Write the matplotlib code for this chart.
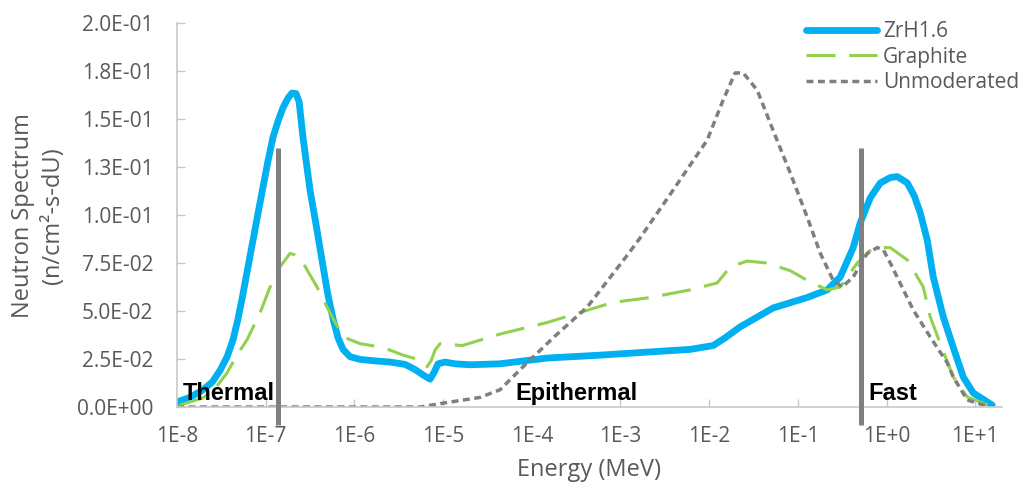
import matplotlib
matplotlib.use("Agg")
import matplotlib.pyplot as plt

# energies in MeV, spectra in n/cm2-s-dU
e_zrh = [1.0e-8, 1.4e-8, 1.96e-8, 2.5e-8, 3.05e-8, 3.66e-8, 4.28e-8, 4.88e-8, 5.55e-8,
         6.32e-8, 7.2e-8, 8.2e-8, 9.33e-8, 1.06e-7, 1.21e-7, 1.38e-7, 1.57e-7, 1.79e-7,
         1.98e-7, 2.2e-7, 2.38e-7, 2.64e-7, 3.16e-7, 3.79e-7, 4.44e-7, 5.05e-7, 5.74e-7,
         6.54e-7, 7.45e-7, 8.93e-7, 1.16e-6, 1.71e-6, 2.52e-6, 3.72e-6, 4.83e-6, 5.94e-6,
         7.13e-6, 7.91e-6, 8.77e-6, 1.05e-5, 1.36e-5, 2.01e-5, 4.39e-5, 1.49e-4, 5.89e-4,
         2.0e-3, 6.1e-3, 1.11e-2, 1.51e-2, 2.23e-2, 5.26e-2, 0.127, 0.214, 0.30, 0.42,
         0.505, 0.655, 0.85, 1.10, 1.32, 1.71, 2.05, 2.40, 2.87, 3.36, 4.35, 5.65, 7.32,
         9.49, 15.5]
zrh = [0.0026, 0.005, 0.0089, 0.013, 0.019, 0.026, 0.035, 0.046, 0.059,
       0.073, 0.087, 0.101, 0.1146, 0.128, 0.1406, 0.149, 0.156, 0.161,
       0.1635, 0.1632, 0.159, 0.140, 0.113, 0.092, 0.073, 0.058, 0.046,
       0.036, 0.030, 0.0262, 0.0248, 0.0240, 0.0234, 0.0222, 0.0195, 0.0167,
       0.0145, 0.018, 0.0225, 0.0234, 0.0225, 0.022, 0.0225, 0.0255, 0.027,
       0.0286, 0.030, 0.032, 0.036, 0.0417, 0.0516, 0.057, 0.061, 0.0677, 0.083,
       0.096, 0.109, 0.1167, 0.1195, 0.120, 0.1167, 0.110, 0.101, 0.087, 0.0677, 0.047, 0.031, 0.0156,
       0.0073, 0.001]

e_gra = [1.08e-8, 1.96e-8, 2.68e-8, 3.66e-8, 4.75e-8, 6.15e-8, 8.63e-8, 1.12e-7, 1.45e-7,
         1.88e-7, 2.25e-7, 2.64e-7, 3.79e-7, 5.31e-7, 7.45e-7, 1.16e-6, 2.1e-6, 3.54e-6,
         5.5e-6, 6.59e-6, 7.32e-6, 8.13e-6, 9.25e-6, 1.64e-5, 4.39e-5, 1.49e-4, 8.26e-4,
         2.16e-3, 6.1e-3, 1.23e-2, 1.73e-2, 2.68e-2, 4.5e-2, 8.2e-2, 0.127, 0.214, 0.30,
         0.467, 0.707, 1.10, 1.71, 2.59, 3.1, 4.03, 5.65, 8.13, 14.8]
gra = [0.001, 0.0047, 0.0095, 0.0177, 0.027, 0.035, 0.049, 0.0625, 0.073,
       0.080, 0.079, 0.075, 0.0625, 0.049, 0.0365, 0.033, 0.031, 0.027,
       0.0245, 0.021, 0.024, 0.0297, 0.033, 0.032, 0.038, 0.044, 0.0545,
       0.057, 0.061, 0.0646, 0.073, 0.076, 0.075, 0.071, 0.066, 0.061, 0.0625,
       0.075, 0.083, 0.083, 0.0766, 0.0625, 0.047, 0.033, 0.0156, 0.0052, 0.0005]

e_unm = [1.0e-8, 5.5e-6, 1.0e-5, 2.61e-5, 4.39e-5, 7.98e-5, 1.83e-4, 4.21e-4, 1.19e-3,
         1.66e-3, 3.92e-3, 9.49e-3, 1.44e-2, 1.96e-2, 2.42e-2, 3.48e-2, 5.26e-2, 8.18e-2,
         0.127, 0.179, 0.25, 0.316, 0.42, 0.605, 0.784, 0.916, 1.10, 2.0, 3.1, 4.83,
         5.65, 8.13, 14.8]
unm = [0.0, 0.0, 0.002, 0.005, 0.009, 0.021, 0.037, 0.052, 0.079,
       0.088, 0.113, 0.139, 0.160, 0.174, 0.174, 0.165, 0.144, 0.122,
       0.099, 0.080, 0.066, 0.0625, 0.0677, 0.080, 0.083, 0.082, 0.075, 0.0505, 0.0365, 0.023,
       0.0156, 0.0036, 0.0]

region_edges = [1.38e-7, 0.52]
region_names = ["Thermal", "Epithermal", "Fast"]
region_pos = [1.17e-8, 3.2e-4, 0.62]

xticks = [1e-8, 1e-7, 1e-6, 1e-5, 1e-4, 1e-3, 1e-2, 1e-1, 1e0, 1e1]
xlabels = ["1E-8", "1E-7", "1E-6", "1E-5", "1E-4", "1E-3", "1E-2", "1E-1", "1E+0", "1E+1"]
yticks = [0, 0.025, 0.05, 0.075, 0.1, 0.125, 0.15, 0.175, 0.2]
ylabels = ["0.0E+00", "2.5E-02", "5.0E-02", "7.5E-02", "1.0E-01", "1.3E-01", "1.5E-01",
           "1.8E-01", "2.0E-01"]

plt.rcParams['font.family'] = ['Open Sans', 'DejaVu Sans']
txt = '#595959'

fig = plt.figure(figsize=(10.24, 4.91), dpi=100)
ax = fig.add_axes([177/1024, 1-407/491, (1002-177)/1024, (407-23)/491])

ax.plot(e_zrh, zrh, color='#00B0F0', lw=4.9, solid_joinstyle='round',
        solid_capstyle='round', label='ZrH1.6')
ax.plot(e_gra, gra, color='#92D050', lw=2.2, dashes=(9.5, 4.5), label='Graphite')
ax.plot(e_unm, unm, color='#7F7F7F', lw=2.5, dashes=(2.0, 1.3), label='Unmoderated')

for xe in region_edges:
    ax.plot([xe, xe], [-0.0094, 0.1349], color='#808080', lw=3.6, clip_on=False,
            solid_capstyle='butt', zorder=5)

for name, xp in zip(region_names, region_pos):
    ha = 'center' if name == 'Epithermal' else 'left'
    ax.text(xp, 0.0068, name, ha=ha, va='center', fontsize=17, fontweight='bold',
            family='Liberation Sans', color='black', zorder=6)

ax.set_xscale('log')
ax.set_xlim(1e-8, 20)
ax.set_ylim(0, 0.2)
ax.set_xticks(xticks)
ax.set_xticklabels(xlabels)
ax.minorticks_off()
ax.set_yticks(yticks)
ax.set_yticklabels(ylabels)
ax.tick_params(direction='in', length=6, width=1, color='#C8C8C8', labelcolor=txt,
               labelsize=15)
ax.tick_params(axis='x', pad=14)
ax.tick_params(axis='y', pad=17)

for s in ['top', 'right']:
    ax.spines[s].set_visible(False)
for s in ['left', 'bottom']:
    ax.spines[s].set_color('#C8C8C8')
    ax.spines[s].set_linewidth(1.2)

fig.text(589/1024, 1-470/491, 'Energy (MeV)', ha='center', va='center', fontsize=17, color=txt)
fig.text(38/1024, 1-216/491, 'Neutron Spectrum\n(n/cm²-s-dU)', ha='center', va='center',
         rotation=90, fontsize=17, color=txt, linespacing=1.3)

leg = ax.legend(loc='upper left', bbox_to_anchor=(806/1024, 1-21/491),
                bbox_transform=fig.transFigure, frameon=False, fontsize=15,
                handlelength=3.4, handletextpad=0.3, labelspacing=0.22,
                borderpad=0, borderaxespad=0)
for t in leg.get_texts():
    t.set_color(txt)

fig.savefig('out.png', dpi=100)
